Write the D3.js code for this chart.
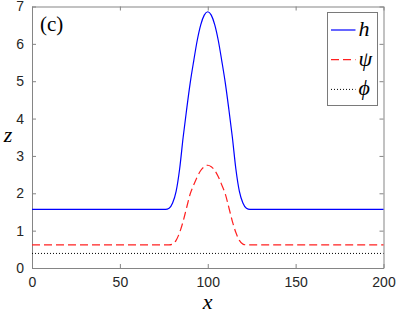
<!DOCTYPE html>
<html lang="en">
<head>
<meta charset="UTF-8">
<title>h, psi, phi profile</title>
<script src="https://d3js.org/d3.v7.min.js"></script>
<style>
  body { margin: 0; background: #fff; }
  .tick text { font-family: "Liberation Sans", Arial, sans-serif; font-size: 14px; fill: #262626; }
  .math { font-family: "Liberation Serif", "DejaVu Serif", serif; font-style: italic; fill: #000; }
</style>
</head>
<body>
<svg id="chart" width="398" height="316"></svg>
<script>
// sample positions along x and the three profiles
const xValues   = [0, 70, 76, 78, 80, 82, 84, 86, 88, 90, 92, 94, 96, 98, 100, 102, 104, 106, 108, 110, 112, 114, 116, 118, 120, 122, 124, 130, 200];
const hValues   = [1.57, 1.57, 1.57, 1.60, 1.74, 2.05, 2.65, 3.50, 4.25, 4.95, 5.54, 6.09, 6.51, 6.77, 6.86, 6.77, 6.51, 6.09, 5.54, 4.95, 4.25, 3.50, 2.65, 2.05, 1.74, 1.60, 1.57, 1.57, 1.57];
const psiValues = [0.62, 0.62, 0.62, 0.62, 0.64, 0.74, 0.95, 1.25, 1.62, 1.98, 2.22, 2.44, 2.61, 2.71, 2.75, 2.71, 2.61, 2.44, 2.22, 1.98, 1.62, 1.25, 0.95, 0.74, 0.64, 0.62, 0.62, 0.62, 0.62];
const phiValues = [0.39, 0.39, 0.39, 0.39, 0.39, 0.39, 0.39, 0.39, 0.39, 0.39, 0.39, 0.39, 0.39, 0.39, 0.39, 0.39, 0.39, 0.39, 0.39, 0.39, 0.39, 0.39, 0.39, 0.39, 0.39, 0.39, 0.39, 0.39, 0.39];

const xTicks = [0, 50, 100, 150, 200];
const yTicks = [0, 1, 2, 3, 4, 5, 6, 7];

const series = [
  { name: "h",   values: hValues,   color: "#0000ff", dash: null,  width: 1.2 },
  { name: "\u03c8", values: psiValues, color: "#ff2020", dash: "8,4", width: 1.2 },
  { name: "\u03d5", values: phiValues, color: "#000000", dash: "1,2", width: 1 }
];

const margin = { left: 32, right: 14.5, top: 6.5, bottom: 48 };
const W = 398, H = 316;
const iw = W - margin.left - margin.right;
const ih = H - margin.top - margin.bottom;

const svg = d3.select("#chart");
const g = svg.append("g").attr("transform", `translate(${margin.left},${margin.top})`);

const x = d3.scaleLinear().domain([0, 200]).range([0, iw]);
const y = d3.scaleLinear().domain([0, 7]).range([ih, 0]);

const axisColor = "#858585";
const fmt = d3.format("d");

// axes with inward ticks on all four sides
const axBottom = g.append("g").attr("transform", `translate(0,${ih})`)
  .call(d3.axisBottom(x).tickValues(xTicks).tickFormat(fmt).tickSizeInner(-4).tickSizeOuter(0).tickPadding(9));
const axLeft = g.append("g")
  .call(d3.axisLeft(y).tickValues(yTicks).tickFormat(fmt).tickSizeInner(-4).tickSizeOuter(0).tickPadding(8));
const axTop = g.append("g")
  .call(d3.axisTop(x).tickValues(xTicks).tickSizeInner(-4).tickSizeOuter(0).tickFormat(""));
const axRight = g.append("g").attr("transform", `translate(${iw},0)`)
  .call(d3.axisRight(y).tickValues(yTicks).tickSizeInner(-4).tickSizeOuter(0).tickFormat(""));

[axBottom, axLeft, axTop, axRight].forEach(a => {
  a.selectAll("path, line").attr("stroke", axisColor);
  a.select(".domain").attr("stroke-width", 1);
});

// curves
const line = d3.line()
  .x((d, i) => x(xValues[i]))
  .y(d => y(d))
  .curve(d3.curveMonotoneX);

series.forEach(s => {
  g.append("path")
    .datum(s.values)
    .attr("fill", "none")
    .attr("stroke", s.color)
    .attr("stroke-width", s.width)
    .attr("stroke-dasharray", s.dash)
    .attr("d", line);
});

// legend
const lg = svg.append("g").attr("transform", "translate(327.5,12.5)");
lg.append("rect").attr("width", 50).attr("height", 93)
  .attr("fill", "#fff").attr("stroke", "#7a7a7a").attr("stroke-width", 1);
series.forEach((s, i) => {
  const yy = 17.5 + i * 29.7;
  lg.append("line")
    .attr("x1", 3.5).attr("x2", 28).attr("y1", yy).attr("y2", yy)
    .attr("stroke", s.color).attr("stroke-width", s.width)
    .attr("stroke-dasharray", s.dash);
  lg.append("text").attr("class", "math")
    .attr("x", 31).attr("y", yy + 6)
    .attr("font-size", 22)
    .text(s.name);
});

// panel label and axis labels
svg.append("text")
  .attr("x", 40).attr("y", 31)
  .attr("font-family", "'Liberation Serif', 'DejaVu Serif', serif")
  .attr("font-size", 21)
  .text("(c)");

svg.append("text").attr("class", "math")
  .attr("x", margin.left + iw / 2).attr("y", 309)
  .attr("text-anchor", "middle").attr("font-size", 22)
  .text("x");

svg.append("text").attr("class", "math")
  .attr("x", 8).attr("y", 142)
  .attr("text-anchor", "middle").attr("font-size", 22)
  .text("z");
</script>
</body>
</html>
